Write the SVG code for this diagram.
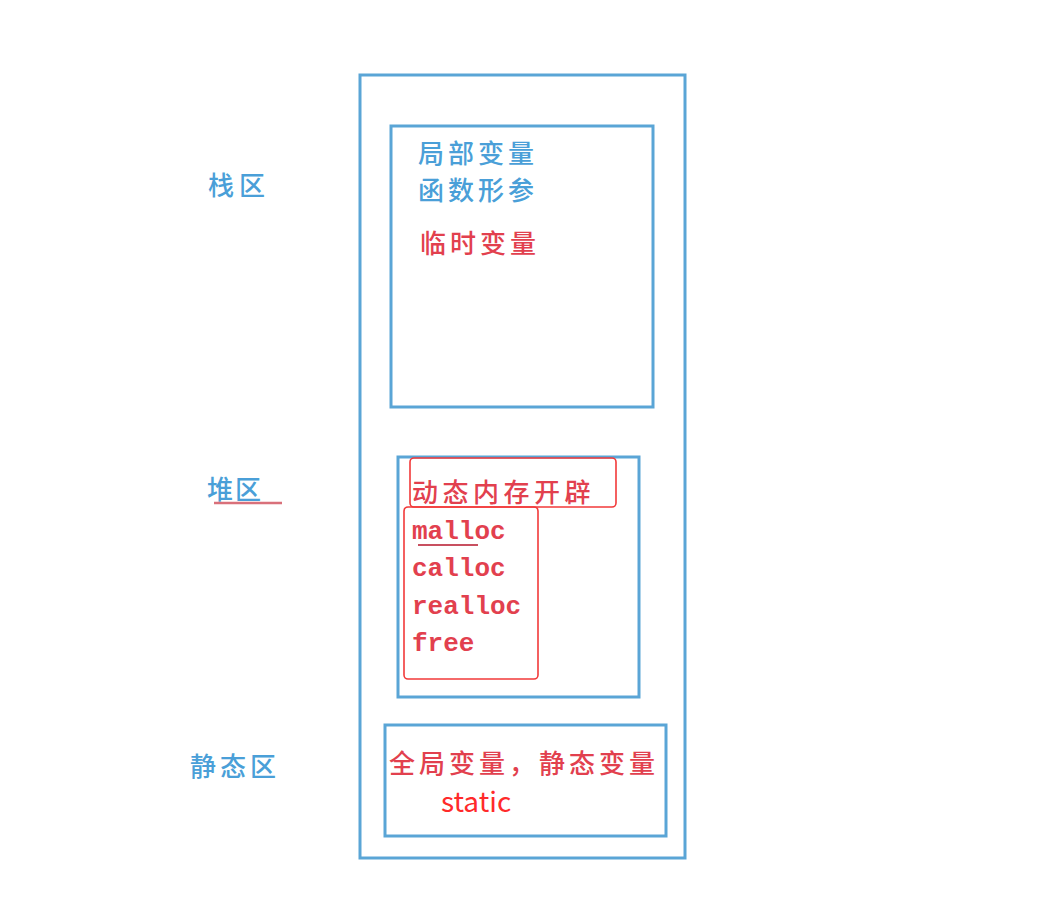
<svg xmlns="http://www.w3.org/2000/svg" width="1060" height="920" viewBox="0 0 1060 920">
<style>
.box{fill:none;stroke:#5aa5d6;stroke-width:3}
.hl{fill:none;stroke:#f23a3a;stroke-width:1.6}
.cn{font-family:"Liberation Serif","Noto Sans CJK SC",serif;font-size:26px;font-weight:500}
.lbl{fill:#4a9fd8}
.red{fill:#e2404e}
.mono{font-family:"Liberation Mono",monospace;font-size:26px;font-weight:bold;fill:#e2404e}
.st{font-family:"Microsoft YaHei","Noto Sans CJK SC","Liberation Sans",sans-serif;font-size:28px;fill:#ff2a2a}
</style>
<rect width="1060" height="920" fill="#ffffff"/>
<g id="labels">
<text class="cn lbl" x="208" y="195" letter-spacing="5">栈区</text>
<text class="cn lbl" x="207" y="499" letter-spacing="2">堆区</text>
<line x1="214" y1="503" x2="282" y2="503" stroke="#d9707a" stroke-width="2.5"/>
<text class="cn lbl" x="190" y="776" letter-spacing="4">静态区</text>
</g>
<g id="outer"><rect class="box" x="360" y="75" width="325" height="783"/></g>
<g id="stack">
<rect class="box" x="391" y="126" width="262" height="281"/>
<text class="cn lbl" x="418" y="163" letter-spacing="4">局部变量</text>
<text class="cn lbl" x="418" y="200" letter-spacing="4">函数形参</text>
<text class="cn red" x="420" y="253" letter-spacing="4">临时变量</text>
</g>
<g id="heap">
<rect class="box" x="398" y="457" width="241" height="240"/>
<rect class="hl" x="410" y="458" width="206" height="49" rx="4"/>
<text class="cn red" x="412" y="502" letter-spacing="4.5">动态内存开辟</text>
<rect class="hl" x="404" y="507" width="134" height="172" rx="4"/>
<text class="mono" x="412" y="539">malloc</text>
<line x1="418" y1="545" x2="478" y2="545" stroke="#c85060" stroke-width="2"/>
<text class="mono" x="412" y="576">calloc</text>
<text class="mono" x="412" y="614">realloc</text>
<text class="mono" x="412" y="651">free</text>
</g>
<g id="static">
<rect class="box" x="385" y="725" width="281" height="111"/>
<text class="cn red" x="389" y="773" letter-spacing="4">全局变量，静态变量</text>
<text class="st" x="441" y="812">static</text>
</g>
<g id="connectors"></g>
</svg>
